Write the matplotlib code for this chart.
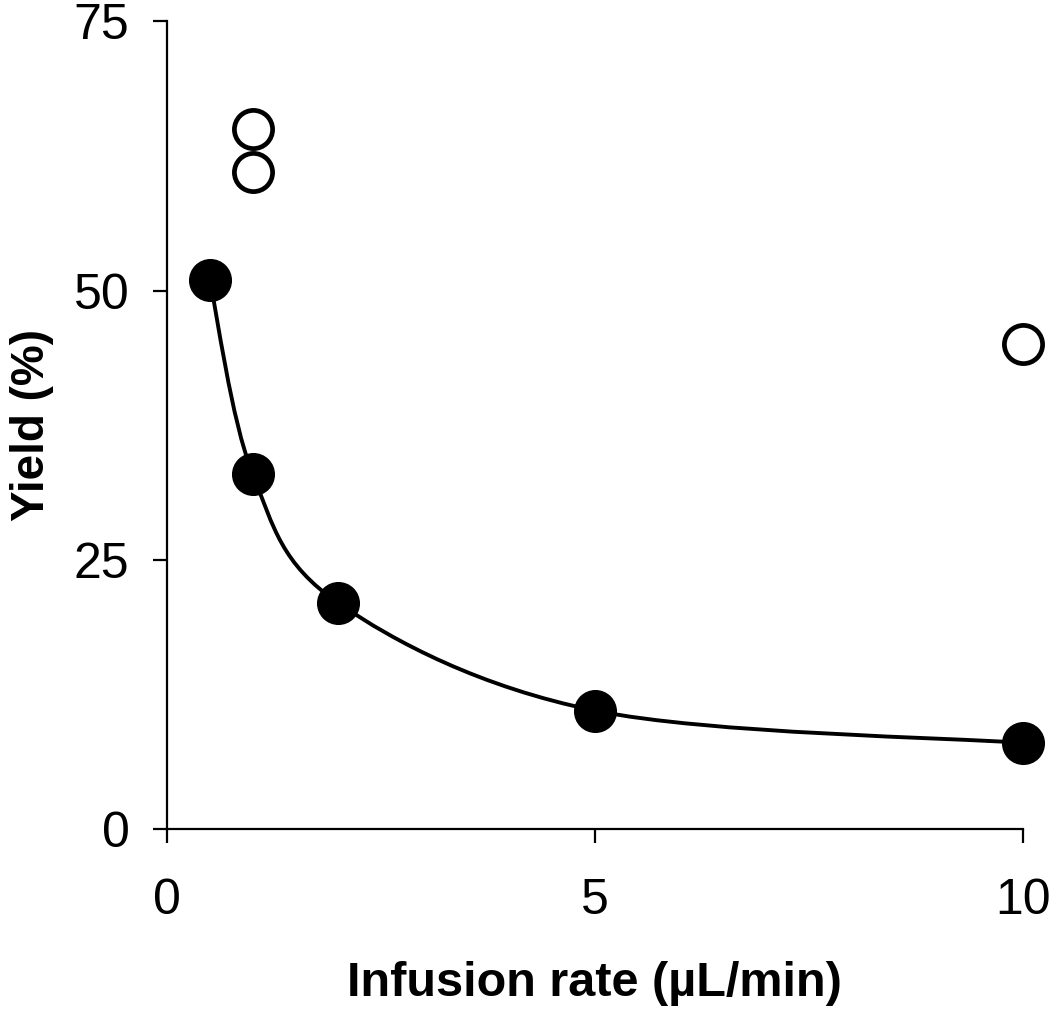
import numpy as np
import matplotlib.pyplot as plt
from matplotlib.path import Path
from matplotlib.patches import PathPatch

plt.rcParams['font.family'] = ['Liberation Sans', 'DejaVu Sans']

# filled points (fitted series)
rate = [0.5, 1, 2, 5, 10]
yield_pct = [51, 33, 21, 11, 8]

# open points
rate_open = [1, 1, 10]
yield_open = [65, 61, 45]


def smooth_path(x, y):
    # Excel-style smoothed line: cubic Bezier segments (Catmull-Rom, tension 1/6)
    pts = np.column_stack([x, y]).astype(float)
    n = len(pts)
    verts = [pts[0]]
    codes = [Path.MOVETO]
    for i in range(n - 1):
        p0 = pts[i - 1] if i > 0 else pts[i]
        p1 = pts[i]
        p2 = pts[i + 1]
        p3 = pts[i + 2] if i + 2 < n else pts[i + 1]
        c1 = p1 + (p2 - p0) / 6
        c2 = p2 - (p3 - p1) / 6
        verts += [c1, c2, p2]
        codes += [Path.CURVE4] * 3
    return Path(verts, codes)


fig = plt.figure(figsize=(10.5, 10.16), dpi=100)
ax = fig.add_axes([0.159, 0.184, 0.815, 0.795])

ax.add_patch(PathPatch(smooth_path(rate, yield_pct), facecolor='none',
                       edgecolor='black', linewidth=2.8, zorder=2))
ax.plot(rate, yield_pct, 'o', color='black', markersize=31,
        markeredgewidth=0, zorder=3, clip_on=False)
ax.plot(rate_open, yield_open, 'o', markerfacecolor='white',
        markeredgecolor='black', markeredgewidth=3.4, markersize=27.5,
        zorder=3, clip_on=False)

ax.set_xlim(0, 10)
ax.set_ylim(0, 75)
ax.set_xticks([0, 5, 10])
ax.set_yticks([0, 25, 50, 75])
ax.spines['top'].set_visible(False)
ax.spines['right'].set_visible(False)
for s in ['left', 'bottom']:
    ax.spines[s].set_linewidth(1.6)
ax.tick_params(direction='out', length=10, width=1.6, labelsize=36, pad=17)
ax.tick_params(axis='x', pad=25)

ax.set_xlabel('Infusion rate (\u00b5L/min)', fontsize=35, fontweight='bold',
              labelpad=27)
ax.set_ylabel('Yield (%)', fontsize=33, fontweight='bold', labelpad=14)

fig.savefig('out.png', dpi=100)
